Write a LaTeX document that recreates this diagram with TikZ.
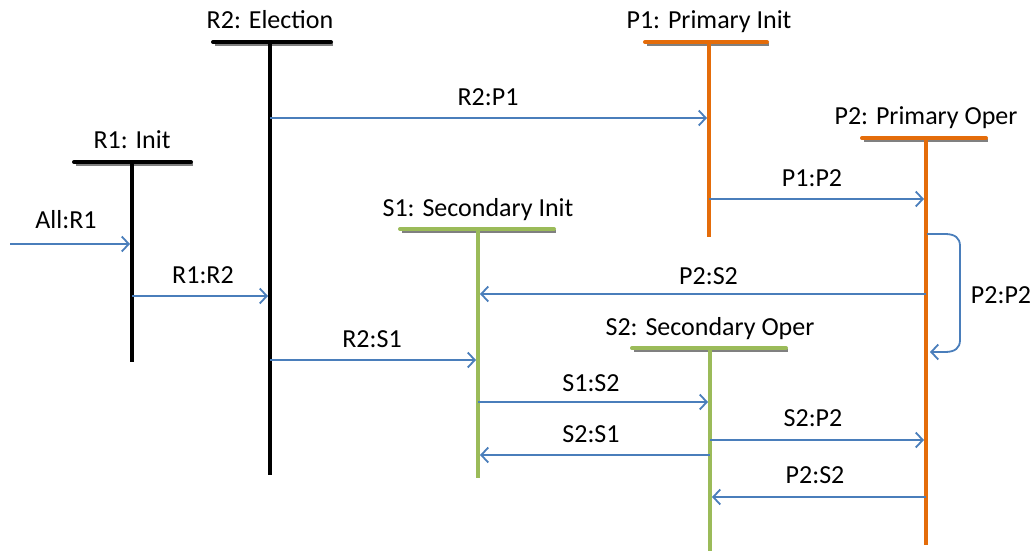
\documentclass[tikz,border=0pt]{standalone}
\usepackage{fontspec}
\setmainfont{Carlito}
\usetikzlibrary{arrows.meta}
\definecolor{msgblue}{RGB}{74,126,187}
\definecolor{lorange}{RGB}{228,108,10}
\definecolor{lgreen}{RGB}{155,187,89}
\definecolor{shadowgray}{RGB}{128,128,128}
\tikzset{
  lbl/.style={font=\fontsize{26}{30}\selectfont, inner sep=0pt, anchor=base},
  msg/.style={draw=msgblue, line width=1.8pt, -{Straight Barb[length=7pt,width=15pt,line width=1.8pt]}},
  lifeline/.style={line width=4pt},
  barshadow/.style={draw=shadowgray, line width=3pt},
  bar/.style={line width=4pt, line cap=round},
}
\newcommand{\lifel}[8]{% name, x, ybar, yend, x1, x2, color, heading
  \coordinate (#1) at (#2,#3);
  \coordinate (#1end) at (#2,#4);
  \coordinate (#1L) at (#5,#3);
  \coordinate (#1R) at (#6,#3);
  \draw[barshadow] ([shift={(1.5,2.5)}]#1L) -- ([shift={(1.5,2.5)}]#1R);
  \draw[bar, draw=#7] (#1L) -- (#1R);
  \draw[lifeline, draw=#7] (#1) -- (#1end);
  \node[lbl] (h#1) at ([yshift=13pt]#1) {#8};
}
\begin{document}
\begin{tikzpicture}[x=1pt,y=-1pt]
\useasboundingbox (0,0) rectangle (1034,559);
% lifelines with headings
\lifel{R1}{132}{162}{362}{74}{191}{black}{R1: Init}
\lifel{R2}{270}{42}{475}{213}{331}{black}{R2: Election}
\lifel{P1}{709}{42}{237}{645}{767}{lorange}{P1: Primary Init}
\lifel{P2}{926}{138}{545}{862}{986}{lorange}{P2: Primary Oper}
\lifel{S1}{478}{229}{478}{400}{554}{lgreen}{S1: Secondary Init}
\lifel{S2}{710}{348}{551}{632}{786}{lgreen}{S2: Secondary Oper}
% messages
\coordinate (ext) at (10,244);
\draw[msg] (ext) -- ([xshift=-2pt]R1 |- ext);
\node[lbl] (tAll) at (66,229) {All:R1};
\draw[msg] (R1 |- 0,296) -- ([xshift=-2pt]R2 |- 0,296);
\node[lbl] (tR1R2) at (203,283) {R1:R2};
\draw[msg] (R2 |- 0,118) -- ([xshift=-2pt]P1 |- 0,118);
\node[lbl] (tR2P1) at (488,105.5) {R2:P1};
\draw[msg] (P1 |- 0,199) -- ([xshift=-2pt]P2 |- 0,199);
\node[lbl] (tP1P2) at (812,186.5) {P1:P2};
\draw[msg] (P2 |- 0,294) -- ([xshift=2pt]S1 |- 0,294);
\node[lbl] (tP2S2a) at (708.5,284) {P2:S2};
\draw[msg] (R2 |- 0,360) -- ([xshift=-2pt]S1 |- 0,360);
\node[lbl] (tR2S1) at (372,347.5) {R2:S1};
\draw[msg] (S1 |- 0,402) -- ([xshift=-2pt]S2 |- 0,402);
\node[lbl] (tS1S2) at (591,391) {S1:S2};
\draw[msg] (S2 |- 0,455) -- ([xshift=2pt]S1 |- 0,455);
\node[lbl] (tS2S1) at (591,442.5) {S2:S1};
\draw[msg] (S2 |- 0,440) -- ([xshift=-2pt]P2 |- 0,440);
\node[lbl] (tS2P2) at (813,426.5) {S2:P2};
\draw[msg] (P2 |- 0,497) -- ([xshift=2pt]S2 |- 0,497);
\node[lbl] (tP2S2b) at (815,483.5) {P2:S2};
% self message
\coordinate (loopA) at (927,234);
\coordinate (loopB) at (930,352);
\draw[msg] (loopA) -- (945,234) .. controls (955,234) and (960,238) .. (960,246)
  -- (960,340) .. controls (960,348) and (955,352) .. (945,352) -- (loopB);
\node[lbl] (tP2P2) at (1001,303) {P2:P2};
\end{tikzpicture}
\end{document}
